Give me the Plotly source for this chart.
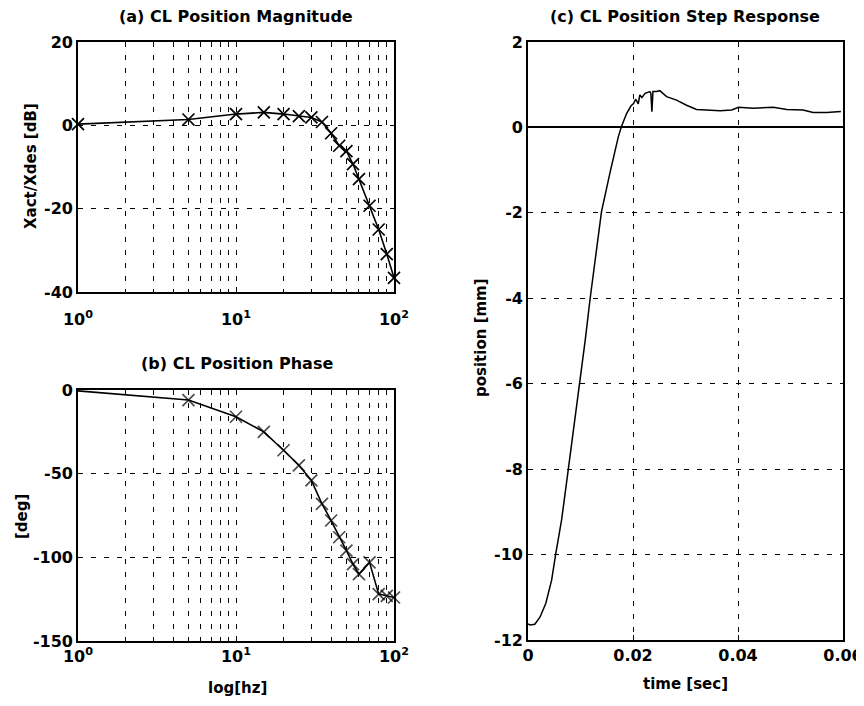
import plotly.graph_objects as go

# frequency response data
freq_hz = [1, 5, 10, 15, 20, 25, 30, 35, 40, 45, 50, 55, 60, 70, 80, 90, 100]
mag_db = [0.3, 1.4, 2.7, 3.1, 2.7, 2.2, 1.9, 0.8, -1.9, -4.9, -6.2, -9.3, -12.9, -19.3, -25.0, -30.9, -36.6]
phase_deg = [-0.5, -6, -16, -25, -36, -45, -54, -68, -78, -88, -96, -104, -110, -103, -122, -123, -124]

# step response data
t_sec = [0.0, 0.0004, 0.0013, 0.0023, 0.0034, 0.0045, 0.0053, 0.0064, 0.0077, 0.0086, 0.0098,
         0.0109, 0.0118, 0.0140, 0.0156, 0.0172, 0.0178, 0.0188, 0.0196, 0.0201, 0.0205, 0.0210,
         0.0213, 0.0217, 0.0223, 0.0232, 0.0234, 0.0236, 0.0238, 0.0245, 0.0251, 0.0264, 0.0283,
         0.0302, 0.0321, 0.0340, 0.0366, 0.0388, 0.0401, 0.0429, 0.0467, 0.0493, 0.0524, 0.0543,
         0.0569, 0.0596]
pos_mm = [-11.62, -11.65, -11.63, -11.46, -11.14, -10.6, -9.97, -9.19, -7.98, -7.16, -5.99,
          -4.98, -4.04, -1.97, -1.07, -0.22, 0.02, 0.33, 0.5, 0.56, 0.66, 0.55,
          0.76, 0.7, 0.8, 0.84, 0.8, 0.37, 0.84, 0.84, 0.86, 0.72, 0.64,
          0.52, 0.42, 0.41, 0.39, 0.41, 0.47, 0.45, 0.47, 0.42, 0.41, 0.35,
          0.35, 0.37]

mag_ticks = [-40, -20, 0, 20]
phase_ticks = [-150, -100, -50, 0]
pos_ticks = [-12, -10, -8, -6, -4, -2, 0, 2]
time_ticks = [0, 0.02, 0.04, 0.06]
time_labels = ["0", "0.02", "0.04", "0.06"]
decades = [1, 10, 100]
decade_labels = ["10<sup>0</sup>", "10<sup>1</sup>", "10<sup>2</sup>"]
minor_vals = [2, 3, 4, 5, 6, 7, 8, 9, 20, 30, 40, 50, 60, 70, 80, 90]

FONT = "DejaVu Sans"
# page body has an 8px margin, so the figure is 8px smaller and shifted
OFF = 8
W, H = 864 - OFF, 706 - OFF
dash = "5px,8px"


def hyph(vals):
    return [str(v) for v in vals]


fig = go.Figure()
fig.add_trace(go.Scatter(x=freq_hz, y=mag_db, mode="lines+markers", xaxis="x", yaxis="y",
                         line=dict(color="black", width=1.6),
                         marker=dict(symbol="x-thin-open", size=12, line=dict(color="black", width=1.7)),
                         cliponaxis=False))
fig.add_trace(go.Scatter(x=freq_hz, y=phase_deg, mode="lines+markers", xaxis="x2", yaxis="y2",
                         line=dict(color="black", width=1.6),
                         marker=dict(symbol="x-thin-open", size=[0] + [12] * (len(freq_hz) - 1),
                                     line=dict(color="black", width=1.7)),
                         cliponaxis=False))
fig.add_trace(go.Scatter(x=t_sec, y=pos_mm, mode="lines", xaxis="x3", yaxis="y3",
                         line=dict(color="black", width=1.5)))


def px_x(a, b):
    return [(a - OFF) / W, (b - OFF) / W]


def px_y(top, bottom):
    return [1 - (bottom - OFF) / H, 1 - (top - OFF) / H]


common = dict(showline=True, linecolor="black", linewidth=1.6, mirror=True,
              ticks="inside", ticklen=5, tickcolor="black", automargin=False,
              gridcolor="black", gridwidth=1.3, griddash=dash,
              tickfont=dict(family=FONT, size=16, color="black", weight="bold"), zeroline=False)

log_axis = dict(type="log", range=[0, 2], tickvals=decades, ticktext=decade_labels,
                minor=dict(tickvals=minor_vals, showgrid=True, gridcolor="black",
                           griddash=dash, gridwidth=1.3, ticks="inside", ticklen=3,
                           tickcolor="black"),
                **common)

fig.update_layout(
    width=W, height=H, margin=dict(l=0, r=0, t=0, b=0),
    paper_bgcolor="white", plot_bgcolor="white", showlegend=False,
    font=dict(family=FONT, color="black"),
    xaxis=dict(domain=px_x(78, 394), anchor="y", ticklabelstandoff=12, **log_axis),
    yaxis=dict(domain=px_y(42, 292), anchor="x", range=[-40, 20], tickvals=mag_ticks,
               ticktext=hyph(mag_ticks), **common),
    xaxis2=dict(domain=px_x(78, 394), anchor="y2", **log_axis),
    yaxis2=dict(domain=px_y(390, 641), anchor="x2", range=[-150, 0], tickvals=phase_ticks,
                ticktext=hyph(phase_ticks), **common),
    xaxis3=dict(domain=px_x(528, 843), anchor="y3", range=[0, 0.06],
                tickvals=time_ticks, ticktext=time_labels, **common),
    yaxis3=dict(domain=px_y(42, 640), anchor="x3", range=[-12, 2],
                tickvals=pos_ticks, ticktext=hyph(pos_ticks), **common),
)
fig.update_layout(yaxis3=dict(zeroline=True, zerolinecolor="black", zerolinewidth=1.7))


def label(text, x, y, angle=0, size=16):
    fig.add_annotation(text=text, x=(x - OFF) / W, y=1 - (y - OFF) / H, xref="paper", yref="paper",
                       showarrow=False, textangle=angle, xanchor="center", yanchor="middle",
                       font=dict(family=FONT, size=size, color="black", weight="bold"))


label("(a) CL Position Magnitude", 236, 17)
label("(b) CL Position Phase", 237, 363)
label("(c) CL Position Step Response", 685, 17)
label("Xact/Xdes [dB]", 31, 166, angle=-90, size=15)
label("[deg]", 22, 516, angle=-90, size=15)
label("position [mm]", 481, 338, angle=-90, size=15)
label("log[hz]", 237, 688, size=15)
label("time [sec]", 685, 684, size=15)

fig.write_html("out.html")
